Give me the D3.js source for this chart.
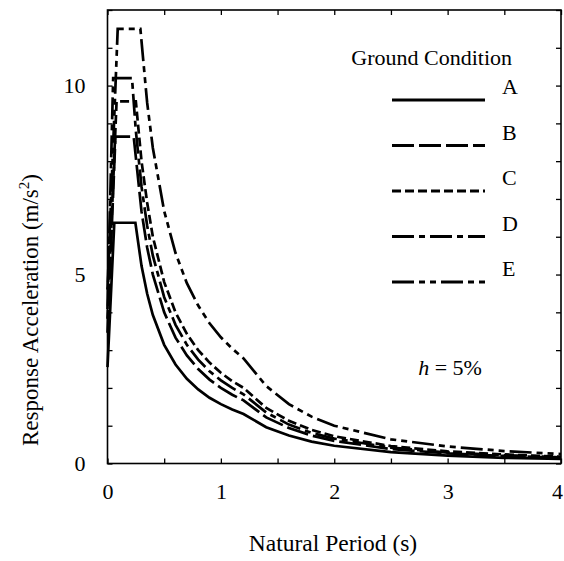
<!DOCTYPE html>
<html>
<head>
<meta charset="utf-8">
<script src="https://cdn.jsdelivr.net/npm/d3@7"></script>
<style>
  body { margin: 0; background: #fff; }
  text { font-family: "Liberation Serif", "Times New Roman", serif; fill: #000; }
</style>
</head>
<body>
<svg id="chart" width="564" height="561"></svg>
<script>
// [period (s), response acceleration (m/s2)]
const groundA = [[0,2.55],[0.06,6.37],[0.246,6.37],[0.3,5.23],[0.35,4.49],[0.4,3.93],[0.5,3.14],[0.6,2.62],[0.7,2.24],[0.8,1.96],[0.9,1.74],[1.0,1.57],[1.1,1.43],[1.2,1.31],[1.4,0.96],[1.6,0.74],[1.8,0.58],[2.0,0.47],[2.5,0.30],[3.0,0.21],[3.5,0.15],[4.0,0.12]];
const groundB = [[0,3.46],[0.07,8.65],[0.231,8.65],[0.3,6.67],[0.35,5.71],[0.4,5.0],[0.5,4.0],[0.6,3.33],[0.7,2.86],[0.8,2.5],[0.9,2.22],[1.0,2.0],[1.1,1.82],[1.2,1.67],[1.4,1.22],[1.6,0.94],[1.8,0.74],[2.0,0.60],[2.5,0.38],[3.0,0.27],[3.5,0.20],[4.0,0.15]];
const groundC = [[0,3.83],[0.08,9.58],[0.25,9.58],[0.3,8.0],[0.35,6.9],[0.4,6.0],[0.5,4.8],[0.6,4.0],[0.7,3.43],[0.8,3.0],[0.9,2.67],[1.0,2.4],[1.1,2.18],[1.2,2.0],[1.4,1.47],[1.6,1.13],[1.8,0.89],[2.0,0.72],[2.5,0.46],[3.0,0.32],[3.5,0.24],[4.0,0.18]];
const groundD = [[0,4.08],[0.05,10.2],[0.216,10.2],[0.25,8.8],[0.3,7.33],[0.35,6.29],[0.4,5.5],[0.5,4.4],[0.6,3.67],[0.7,3.14],[0.8,2.75],[0.9,2.44],[1.0,2.2],[1.1,2.0],[1.2,1.83],[1.4,1.35],[1.6,1.03],[1.8,0.81],[2.0,0.66],[2.5,0.42],[3.0,0.29],[3.5,0.22],[4.0,0.165]];
const groundE = [[0,4.6],[0.09,11.5],[0.29,11.5],[0.35,9.54],[0.4,8.35],[0.5,6.68],[0.6,5.57],[0.7,4.77],[0.8,4.18],[0.9,3.71],[1.0,3.34],[1.1,3.04],[1.2,2.78],[1.4,2.05],[1.6,1.57],[1.8,1.24],[2.0,1.0],[2.5,0.64],[3.0,0.45],[3.5,0.33],[4.0,0.25]];

const conditions = ['A', 'B', 'C', 'D', 'E'];
const xTicks = [0, 0.5, 1, 1.5, 2, 2.5, 3, 3.5, 4];
const xLabels = [0, 1, 2, 3, 4];
const yTicks = [0, 1, 2, 3, 4, 5, 6, 7, 8, 9, 10, 11, 12];
const yLabels = [0, 5, 10];

const seriesData = [groundA, groundB, groundC, groundD, groundE];
const dashes = [null, '22,5', '9,4', '22,5,6,5', '22,5,6,5,6,5'];

const svg = d3.select('#chart');
const frame = { left: 107.5, right: 561, top: 10, bottom: 463.5 };

const x = d3.scaleLinear().domain([0, 4]).range([frame.left, frame.right]);
const y = d3.scaleLinear().domain([0, 12]).range([frame.bottom, frame.top]);

// axes with inward ticks
const fmtX = d => xLabels.includes(d) ? d : '';
const fmtY = d => yLabels.includes(d) ? d : '';

const axisB = svg.append('g')
  .attr('transform', `translate(0,${frame.bottom})`)
  .call(d3.axisBottom(x).tickValues(xTicks).tickSize(-5).tickPadding(20).tickFormat(fmtX));
const axisT = svg.append('g')
  .attr('transform', `translate(0,${frame.top})`)
  .call(d3.axisTop(x).tickValues(xTicks).tickSize(-5).tickFormat(''));
const axisL = svg.append('g')
  .attr('transform', `translate(${frame.left},0)`)
  .call(d3.axisLeft(y).tickValues(yTicks).tickSize(-5).tickPadding(22).tickFormat(fmtY));
const axisR = svg.append('g')
  .attr('transform', `translate(${frame.right},0)`)
  .call(d3.axisRight(y).tickValues(yTicks).tickSize(-5).tickFormat(''));

[axisB, axisT, axisL, axisR].forEach(a => {
  a.select('.domain').remove();
  a.selectAll('line').attr('stroke', '#000').attr('stroke-width', 1.3);
  a.selectAll('text').attr('font-size', 22).attr('font-family', '"Liberation Serif", serif');
});
// last period label sits against the page edge
axisB.selectAll('.tick text').filter(d => d === 4).attr('dx', -4);

// frame
svg.append('rect')
  .attr('x', frame.left).attr('y', frame.top)
  .attr('width', frame.right - frame.left)
  .attr('height', frame.bottom - frame.top)
  .attr('fill', 'none').attr('stroke', '#000').attr('stroke-width', 1.6);

// spectra
const line = d3.line().x(d => x(d[0])).y(d => y(d[1]));

svg.append('g').selectAll('path')
  .data(seriesData)
  .join('path')
  .attr('d', line)
  .attr('fill', 'none')
  .attr('stroke', '#000')
  .attr('stroke-width', 2.7)
  .attr('stroke-dasharray', (d, i) => dashes[i]);

// legend
svg.append('text')
  .attr('x', 512).attr('y', 65)
  .attr('text-anchor', 'end')
  .attr('font-size', 22)
  .text('Ground Condition');

const legendY = d3.scalePoint().domain(conditions).range([100, 282]);
const legend = svg.append('g').selectAll('g')
  .data(conditions)
  .join('g')
  .attr('transform', d => `translate(0,${legendY(d)})`);

legend.append('line')
  .attr('x1', 392).attr('x2', 485)
  .attr('stroke', '#000').attr('stroke-width', 3)
  .attr('stroke-dasharray', (d, i) => dashes[i]);

legend.append('text')
  .attr('x', 502).attr('y', -6)
  .attr('font-size', 22)
  .text(d => d);

// damping note
const note = svg.append('text')
  .attr('x', 450).attr('y', 375)
  .attr('text-anchor', 'middle')
  .attr('font-size', 22);
note.append('tspan').attr('font-style', 'italic').text('h');
note.append('tspan').text(' = 5%');

// axis titles
svg.append('text')
  .attr('x', 333).attr('y', 551)
  .attr('text-anchor', 'middle')
  .attr('font-size', 23.5)
  .text('Natural Period (s)');

const yTitle = svg.append('text')
  .attr('transform', 'translate(38,310) rotate(-90)')
  .attr('text-anchor', 'middle')
  .attr('font-size', 23);
yTitle.append('tspan').text('Response Acceleration (m/s');
yTitle.append('tspan').attr('font-size', 15).attr('dy', -9).text('2');
yTitle.append('tspan').attr('dy', 9).text(')');
</script>
</body>
</html>
